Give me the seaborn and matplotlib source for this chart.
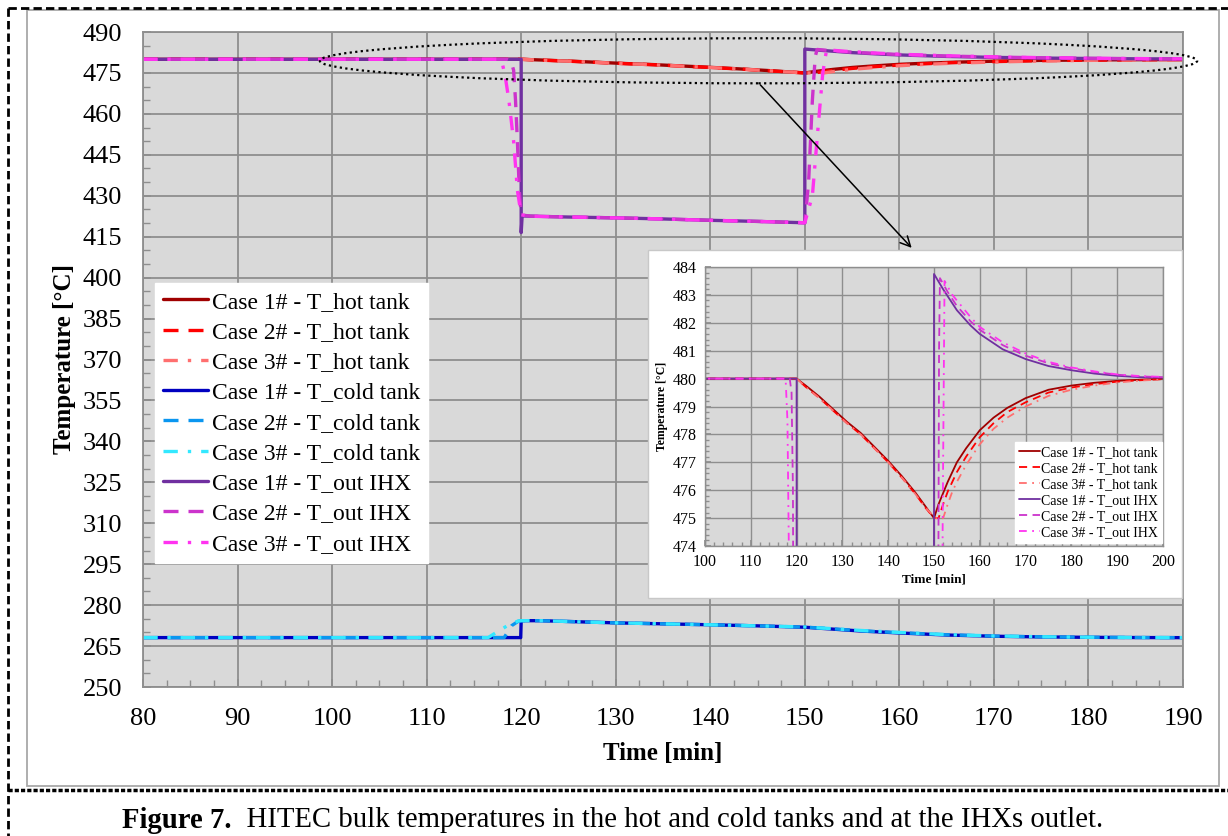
import matplotlib
matplotlib.use('Agg')
import matplotlib.pyplot as plt
from matplotlib.patches import Ellipse, Rectangle
from matplotlib.lines import Line2D
from matplotlib.ticker import MultipleLocator, FixedLocator
import seaborn as sns

# ---- data (time in min, temperature in degC) ----
t_hot_1 = [80, 120, 122, 125, 128, 131, 134, 137, 140, 143, 146, 148, 150, 151, 152, 153, 154, 155, 157, 160, 163, 166, 170, 175, 180, 185, 190, 195, 200]
T_hot_1 = [480, 480, 479.75, 479.35, 478.9, 478.45, 478.05, 477.55, 477.05, 476.5, 475.9, 475.45, 475.0, 475.5, 475.9, 476.3, 476.65, 477.0, 477.5, 478.15, 478.6, 478.95, 479.3, 479.6, 479.75, 479.85, 479.92, 479.96, 480.0]
t_hot_2 = t_hot_1
T_hot_2 = [480, 480, 479.7, 479.3, 478.85, 478.4, 478.0, 477.5, 477.0, 476.45, 475.85, 475.4, 475.0, 475.0, 475.5, 475.95, 476.3, 476.65, 477.2, 477.9, 478.4, 478.8, 479.15, 479.5, 479.68, 479.8, 479.89, 479.94, 479.98]
t_hot_3 = t_hot_1
T_hot_3 = [480, 480, 479.7, 479.3, 478.85, 478.4, 478.0, 477.5, 477.0, 476.45, 475.85, 475.4, 475.05, 474.95, 475.0, 475.5, 475.95, 476.3, 476.9, 477.65, 478.2, 478.6, 479.0, 479.38, 479.6, 479.75, 479.86, 479.93, 479.97]

t_cold_1 = [80, 119.95, 120, 122, 126, 130, 135, 140, 145, 150, 153, 156, 160, 165, 170, 175, 180, 185, 190, 200]
T_cold_1 = [268.1, 268.1, 274.3, 274.3, 273.9, 273.5, 273.15, 272.8, 272.4, 271.9, 271.2, 270.5, 269.8, 269.05, 268.6, 268.35, 268.2, 268.12, 268.08, 268.05]
t_cold_2 = [80, 118.2, 119.0, 119.7, 120, 122, 126, 130, 135, 140, 145, 150, 153, 156, 160, 165, 170, 175, 180, 185, 190, 200]
T_cold_2 = [268.1, 268.1, 272.5, 274.1, 274.3, 274.3, 273.9, 273.5, 273.15, 272.8, 272.4, 271.95, 271.3, 270.6, 269.9, 269.15, 268.65, 268.4, 268.22, 268.13, 268.09, 268.05]
t_cold_3 = [80, 116.5, 117.6, 118.8, 119.7, 120, 122, 126, 130, 135, 140, 145, 150, 153, 156, 160, 165, 170, 175, 180, 185, 190, 200]
T_cold_3 = [268.1, 268.1, 270.5, 273.0, 274.2, 274.3, 274.3, 273.9, 273.5, 273.15, 272.8, 272.4, 272.0, 271.35, 270.7, 270.0, 269.2, 268.7, 268.42, 268.24, 268.14, 268.09, 268.05]

t_ihx_1 = [80, 120, 120, 120.1, 125, 130, 135, 140, 145, 150, 150, 152, 155, 158, 160, 165, 170, 175, 180, 185, 190, 195, 200]
T_ihx_1 = [480, 480, 416.5, 422.6, 422.2, 421.9, 421.5, 421.0, 420.6, 420.1, 483.75, 483.2, 482.45, 481.9, 481.6, 481.05, 480.7, 480.45, 480.3, 480.18, 480.1, 480.05, 480.03]
t_ihx_2 = [80, 118.5, 118.9, 119.2, 119.4, 119.6, 119.8, 120, 121, 125, 130, 135, 140, 145, 150, 150.4, 150.8, 151.1, 151.3, 153, 155, 158, 160, 165, 170, 175, 180, 185, 190, 195, 200]
T_ihx_2 = [480, 480, 479.5, 476, 465, 450, 432, 423, 422.5, 422.2, 421.9, 421.5, 421.0, 420.6, 420.1, 435, 465, 481, 483.6, 483.1, 482.6, 482.05, 481.75, 481.2, 480.82, 480.55, 480.37, 480.24, 480.14, 480.08, 480.05]
t_ihx_3 = [80, 117.6, 118.0, 118.3, 118.7, 119.2, 119.6, 120, 121, 125, 130, 135, 140, 145, 150, 150.8, 151.4, 151.9, 152.3, 154, 155, 158, 160, 165, 170, 175, 180, 185, 190, 195, 200]
T_ihx_3 = [480, 480, 478.5, 474, 465, 450, 432, 423, 422.5, 422.2, 421.9, 421.5, 421.0, 420.6, 420.1, 430, 455, 475, 483.5, 483.0, 482.8, 482.2, 481.85, 481.3, 480.9, 480.6, 480.4, 480.26, 480.15, 480.09, 480.06]

y_ticks_main = list(range(250, 491, 15))

labels = ['Case 1# - T_hot tank', 'Case 2# - T_hot tank', 'Case 3# - T_hot tank',
          'Case 1# - T_cold tank', 'Case 2# - T_cold tank', 'Case 3# - T_cold tank',
          'Case 1# - T_out IHX', 'Case 2# - T_out IHX', 'Case 3# - T_out IHX']
colors = ['#a00000', '#ff0000', '#ff6f6f',
          '#0000c0', '#0a96f0', '#33e8ff',
          '#7030a0', '#cc33cc', '#ff33f0']

solid = '-'
dashed = (0, (4.5, 3))
dashdot = (0, (4.3, 3, 1, 3))
styles = [solid, dashed, dashdot] * 3

series = [(t_hot_1, T_hot_1), (t_hot_2, T_hot_2), (t_hot_3, T_hot_3),
          (t_cold_1, T_cold_1), (t_cold_2, T_cold_2), (t_cold_3, T_cold_3),
          (t_ihx_1, T_ihx_1), (t_ihx_2, T_ihx_2), (t_ihx_3, T_ihx_3)]

sns.set_theme(style='white')
plt.rcParams['font.family'] = ['Liberation Serif', 'DejaVu Serif']
plt.rcParams['text.color'] = 'black'
plt.rcParams['axes.labelcolor'] = 'black'
plt.rcParams['xtick.color'] = 'black'
plt.rcParams['ytick.color'] = 'black'

W, H = 1228, 836
fig = plt.figure(figsize=(W / 100, H / 100), dpi=100)


def fx(x):
    return x / W


def fy(y):
    return 1 - y / H


def box(l, t, r, b):
    return [fx(l), fy(b), fx(r) - fx(l), fy(t) - fy(b)]


grid_c = '#8e8e8e'

# ---------------- main chart ----------------
ax = fig.add_axes(box(143, 32, 1183, 687))
ax.set_facecolor('#d9d9d9')
handles = []
for (t, T), c, ls, lab in zip(series, colors, styles, labels):
    sns.lineplot(x=t, y=T, ax=ax, color=c, linestyle=ls, linewidth=2.4,
                 estimator=None, sort=False, legend=False)
    handles.append(Line2D([], [], color=c, linestyle=ls, linewidth=2.4))

ax.set_xlim(80, 190)
ax.set_ylim(250, 490)
ax.xaxis.set_major_locator(MultipleLocator(10))
ax.xaxis.set_minor_locator(MultipleLocator(2.5))
ax.yaxis.set_major_locator(FixedLocator(y_ticks_main))
ax.yaxis.set_minor_locator(MultipleLocator(5))
ax.grid(True, which='major', color=grid_c, linewidth=1.3)
ax.set_axisbelow(True)
ax.tick_params(which='both', direction='in', color=grid_c, labelsize=19,
               labelcolor='black', bottom=True, left=True)
ax.tick_params(which='major', length=6, pad=15)
ax.tick_params(which='minor', length=5)
for sp in ax.spines.values():
    sp.set_color(grid_c)
    sp.set_linewidth(1.3)

ax.set_xlabel('Time [min]', fontsize=18, fontweight='bold', color='black')
ax.set_ylabel('Temperature [°C]', fontsize=18, fontweight='bold', color='black')
ax.xaxis.set_label_coords(0.5, -0.084)
ax.yaxis.set_label_coords(-0.064, 0.5)

leg = ax.legend(handles, labels, loc='upper left', bbox_to_anchor=(0.0115, 0.617),
                borderaxespad=0, fontsize=17, handlelength=1.9, handletextpad=0.15,
                labelspacing=0.37, frameon=True, fancybox=False, borderpad=0.35)
leg.get_frame().set_facecolor('white')
leg.get_frame().set_edgecolor('white')
leg.get_frame().set_alpha(1)

ell = Ellipse((145.1, 479.45), 92.8, 16.5, fill=False, edgecolor='black',
              linestyle=(0, (1, 1.5)), linewidth=1.6, clip_on=False, zorder=5)
ax.add_patch(ell)
ax.annotate('', xy=(161.3, 410.9), xytext=(145.3, 470.6), annotation_clip=False,
            arrowprops=dict(arrowstyle='->', color='black', lw=1.1,
                            mutation_scale=18, shrinkA=0, shrinkB=0))

# ---------------- inset ----------------
panel = Rectangle((fx(648), fy(598)), fx(1182) - fx(648), fy(250) - fy(598),
                  transform=fig.transFigure, facecolor='white', edgecolor='#c8c8c8',
                  linewidth=1, zorder=2)
fig.add_artist(panel)

iax = fig.add_axes(box(705, 267, 1163, 546))
iax.set_zorder(3)
iax.set_facecolor('#d9d9d9')
inset_idx = [0, 1, 2, 6, 7, 8]
ihandles = []
for i in inset_idx:
    t, T = series[i]
    sns.lineplot(x=t, y=T, ax=iax, color=colors[i], linestyle=styles[i], linewidth=1.3,
                 estimator=None, sort=False, legend=False)
    ihandles.append(Line2D([], [], color=colors[i], linestyle=styles[i], linewidth=1.3))
iax.set_xlim(100, 200)
iax.set_ylim(474, 484)
iax.xaxis.set_major_locator(MultipleLocator(10))
iax.xaxis.set_minor_locator(MultipleLocator(2))
iax.yaxis.set_major_locator(MultipleLocator(1))
iax.yaxis.set_minor_locator(MultipleLocator(0.2))
iax.grid(True, which='major', color=grid_c, linewidth=1)
iax.set_axisbelow(True)
iax.tick_params(which='both', direction='in', color=grid_c, labelsize=11.5,
                labelcolor='black', bottom=True, left=True)
iax.tick_params(which='major', length=4, pad=6)
iax.tick_params(which='minor', length=3)
for sp in iax.spines.values():
    sp.set_color(grid_c)
    sp.set_linewidth(1)
iax.set_xlabel('Time [min]', fontsize=9.5, fontweight='bold', labelpad=2, color='black')
iax.set_ylabel('Temperature [°C]', fontsize=8.5, fontweight='bold', labelpad=3, color='black')

ileg = iax.legend(ihandles, [labels[i] for i in inset_idx], loc='lower right',
                  bbox_to_anchor=(0.998, 0.01), borderaxespad=0, fontsize=10,
                  handlelength=1.5, handletextpad=0.1, labelspacing=0.22,
                  frameon=True, fancybox=False, borderpad=0.3)
ileg.get_frame().set_facecolor('white')
ileg.get_frame().set_edgecolor('white')
ileg.get_frame().set_alpha(1)

# ---------------- frame and caption ----------------
fig.add_artist(Rectangle((fx(27), fy(786)), fx(1219) - fx(27), fy(10) - fy(786),
                         transform=fig.transFigure, fill=False, edgecolor='#a8a8a8',
                         linewidth=1.3, zorder=1))
fig.add_artist(Line2D([fx(8), fx(8)], [fy(8), fy(836)], transform=fig.transFigure,
                      color='black', linewidth=2, linestyle=(0, (3, 1.5))))
fig.add_artist(Line2D([fx(8), fx(1228)], [fy(8), fy(8)], transform=fig.transFigure,
                      color='black', linewidth=2, linestyle=(0, (3, 1.5))))
fig.add_artist(Line2D([fx(8), fx(1228)], [fy(790), fy(790)], transform=fig.transFigure,
                      color='black', linewidth=2.5, linestyle=(0, (1.2, 0.6))))

cap1 = fig.text(fx(122), fy(820), 'Figure 7.', fontsize=20.7, fontweight='bold', va='center')
fig.canvas.draw()
bb = cap1.get_window_extent(renderer=fig.canvas.get_renderer())
fig.text(bb.x1 / W, fy(820), '  HITEC bulk temperatures in the hot and cold tanks and at the IHXs outlet.',
         fontsize=20.7, va='center')

fig.savefig('out.png', dpi=100)
